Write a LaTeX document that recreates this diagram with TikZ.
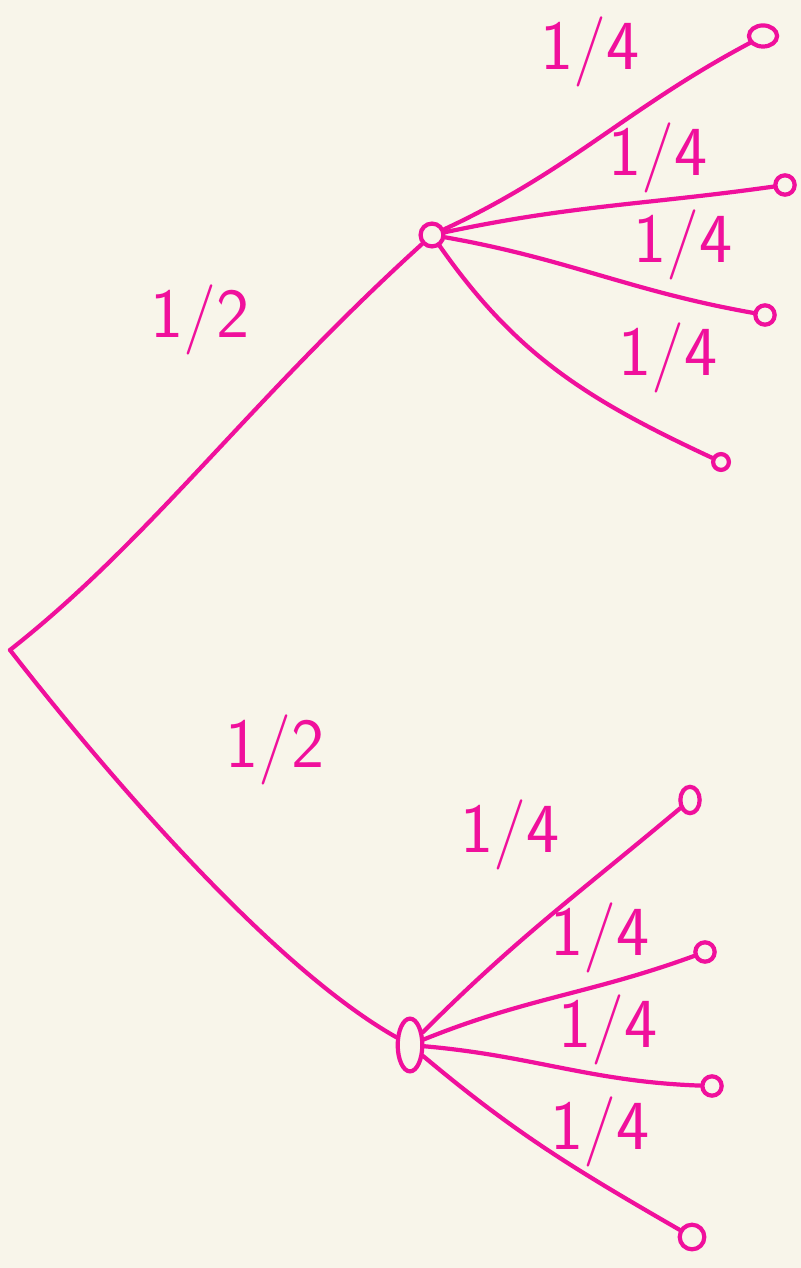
\documentclass[tikz,border=0pt]{standalone}
\usepackage{tikz}
\usetikzlibrary{calc, shapes.geometric}

\definecolor{pen}{HTML}{F0109C}
\definecolor{paper}{HTML}{F8F5EA}

\begin{document}
\begin{tikzpicture}[x=0.01cm, y=-0.01cm,
    stroke/.style={pen, line width=1.2pt, line cap=round},
    dot/.style={circle, draw=pen, line width=1.2pt, inner sep=0pt, minimum size=5.5pt},
    prob/.style={pen, font=\sffamily\fontsize{20}{24}\selectfont}]
            \fill[paper] (0,0) rectangle (801,1268);
            \useasboundingbox (0,0) rectangle (801,1268);
            % root and the two branch points
            \coordinate (R) at (10,650);
            \node[dot, minimum size=6.5pt] (T) at (432,235) {};
            \node[ellipse, draw=pen, line width=1.2pt, inner sep=0pt, minimum height=15pt, minimum width=7pt] (B) at (410,1045) {};
            % leaves
            \node[dot, ellipse, minimum width=8pt, minimum height=6pt] (T1) at (763,36) {};
            \node[dot] (T2) at (785,185) {};
            \node[dot] (T3) at (765,315) {};
            \node[dot, minimum size=4.5pt] (T4) at (721,462) {};
            \node[dot, ellipse, minimum width=5.5pt, minimum height=7.5pt] (B1) at (690,800) {};
            \node[dot] (B2) at (705,952) {};
            \node[dot] (B3) at (712,1086) {};
            \node[dot, minimum size=7pt] (B4) at (692,1237) {};
            % first level
            \draw[stroke] (R) .. controls (150,540) and (250,400) .. (T);
            \draw[stroke] (R) .. controls (80,740) and (260,960) .. (B);
            % second level, top
            \draw[stroke] (T) to[out=25, in=208] (T1);
            \draw[stroke] (T) to[out=12, in=188] (T2);
            \draw[stroke] (T) to[out=-10, in=170] (T3);
            \draw[stroke] (T) to[out=-55, in=155] (T4);
            % second level, bottom
            \draw[stroke] (B) to[out=45, in=220] (B1);
            \draw[stroke] (B) to[out=22, in=200] (B2);
            \draw[stroke] (B) to[out=-5, in=178] (B3);
            \draw[stroke] (B) to[out=-40, in=150] (B4);
            % labels
            \node[prob] (pT) at (200,320) {1/2};
            \node[prob] (pB) at (275,750) {1/2};
            \node[prob] (pT1) at (590,52) {1/4};
            \node[prob] (pT2) at (658,158) {1/4};
            \node[prob] (pT3) at (683,245) {1/4};
            \node[prob] (pT4) at (668,358) {1/4};
            \node[prob] (pB1) at (510,835) {1/4};
            \node[prob] (pB2) at (600,938) {1/4};
            \node[prob] (pB3) at (608,1030) {1/4};
            \node[prob] (pB4) at (600,1132) {1/4};
        \end{tikzpicture}
\end{document}
